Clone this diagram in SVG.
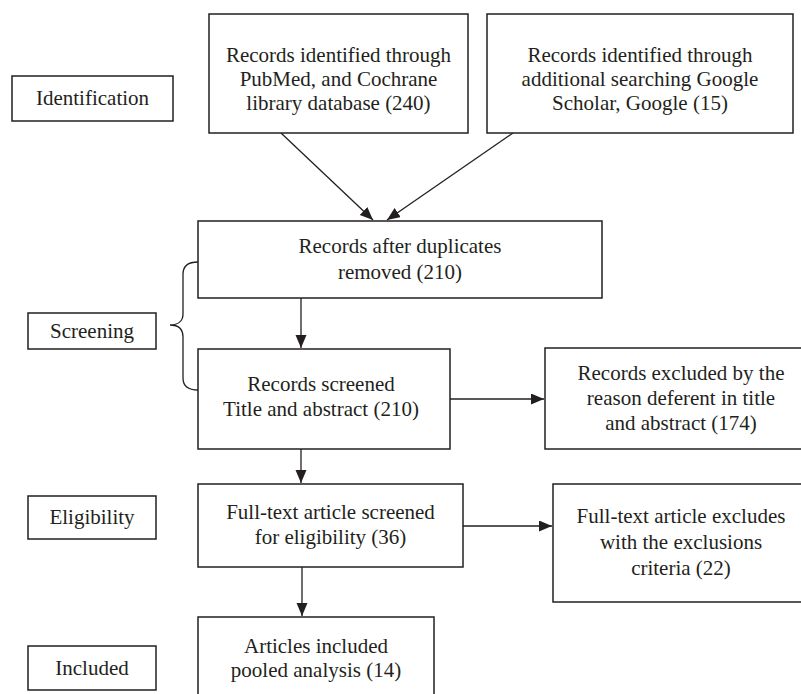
<svg xmlns="http://www.w3.org/2000/svg" width="801" height="694" viewBox="0 0 801 694">
<style>
.box{fill:#fff;stroke:#231f20;stroke-width:1.5}
.t{font-family:"Liberation Serif","Times New Roman",serif;font-size:21px;fill:#231f20;text-anchor:middle}
.c{fill:none;stroke:#231f20;stroke-width:1.3}
</style>
<defs>
<marker id="ah" markerUnits="userSpaceOnUse" markerWidth="14" markerHeight="12" refX="13" refY="5.5" orient="auto" viewBox="0 0 14 12">
<path d="M0,0 L13,5.5 L0,11 z" fill="#231f20"/>
</marker>
</defs>
<rect width="801" height="694" fill="#fff"/>
<g id="connectors">
<line class="c" x1="281" y1="133" x2="373" y2="220" marker-end="url(#ah)"/>
<line class="c" x1="513" y1="133" x2="387" y2="220" marker-end="url(#ah)"/>
<line class="c" x1="301" y1="298" x2="301" y2="348" marker-end="url(#ah)"/>
<line class="c" x1="450" y1="399" x2="544" y2="399" marker-end="url(#ah)"/>
<line class="c" x1="301" y1="449" x2="301" y2="483" marker-end="url(#ah)"/>
<line class="c" x1="463" y1="526" x2="552" y2="526" marker-end="url(#ah)"/>
<line class="c" x1="302" y1="567" x2="302" y2="616" marker-end="url(#ah)"/>
<path class="c" d="M198,262 C188,262 183,266 183,274 L183,314 C183,321 178,325 170,325 C178,325 183,329 183,337 L183,378 C183,386 188,390 198,390"/>
</g>
<g id="identification"><rect class="box" x="12" y="76" width="161" height="45"/><text class="t" x="92.5" y="105">Identification</text></g>
<g id="screening"><rect class="box" x="28" y="313" width="128" height="36"/><text class="t" x="92" y="338">Screening</text></g>
<g id="eligibility"><rect class="box" x="28" y="496" width="128" height="43"/><text class="t" x="92" y="524">Eligibility</text></g>
<g id="included"><rect class="box" x="28" y="646" width="128" height="44"/><text class="t" x="92" y="675">Included</text></g>
<g id="pubmed"><rect class="box" x="209" y="14" width="259" height="119"/>
<text class="t" x="338.5" y="62">Records identified through</text>
<text class="t" x="338.5" y="86">PubMed, and Cochrane</text>
<text class="t" x="338.5" y="110">library database (240)</text></g>
<g id="google"><rect class="box" x="487" y="14" width="306" height="119"/>
<text class="t" x="640" y="62">Records identified through</text>
<text class="t" x="640" y="86">additional searching Google</text>
<text class="t" x="640" y="110">Scholar, Google (15)</text></g>
<g id="duplicates"><rect class="box" x="198" y="221" width="404" height="77"/>
<text class="t" x="400" y="253">Records after duplicates</text>
<text class="t" x="400" y="279">removed (210)</text></g>
<g id="screened"><rect class="box" x="198" y="349" width="252" height="100"/>
<text class="t" x="321" y="391">Records screened</text>
<text class="t" x="321" y="416">Title and abstract (210)</text></g>
<g id="excluded1"><rect class="box" x="545" y="348" width="280" height="101"/>
<text class="t" x="681" y="380">Records excluded by the</text>
<text class="t" x="681" y="405">reason deferent in title</text>
<text class="t" x="681" y="430">and abstract (174)</text></g>
<g id="fulltext"><rect class="box" x="198" y="484" width="265" height="83"/>
<text class="t" x="330.5" y="519">Full-text article screened</text>
<text class="t" x="330.5" y="544">for eligibility (36)</text></g>
<g id="excluded2"><rect class="box" x="553" y="484" width="272" height="118"/>
<text class="t" x="681" y="523">Full-text article excludes</text>
<text class="t" x="681" y="549">with the exclusions</text>
<text class="t" x="681" y="575">criteria (22)</text></g>
<g id="articles"><rect class="box" x="198" y="617" width="236" height="90"/>
<text class="t" x="316" y="653">Articles included</text>
<text class="t" x="316" y="677">pooled analysis (14)</text></g>
</svg>
